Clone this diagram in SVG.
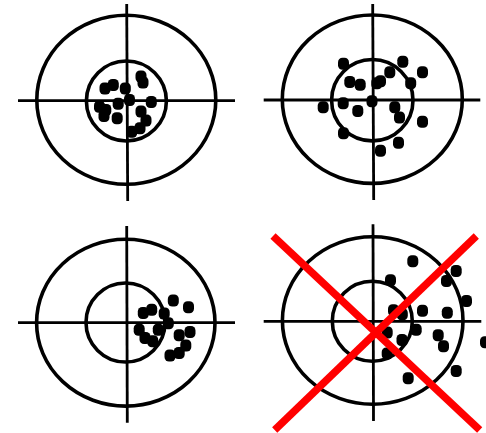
<svg xmlns="http://www.w3.org/2000/svg" xmlns:xlink="http://www.w3.org/1999/xlink" width="486" height="433" viewBox="0 0 486 433">
<style>
.ring{fill:none;stroke:#000;stroke-width:3.6}
.axis{stroke:#000;stroke-width:2.8}
.dot{fill:#000}
.cross{stroke:#ff0000;stroke-width:7.5;stroke-linecap:butt}
</style>
<defs>
<rect id="dot" class="dot" x="-5.5" y="-6" width="11" height="12" rx="4.5"/>
</defs>
<rect width="486" height="433" fill="#fff"/>
<g id="target-tl">
<ellipse class="ring" cx="126.3" cy="99.8" rx="89.5" ry="84.5"/>
<circle class="ring" cx="126.4" cy="101" r="40"/>
<line class="axis" x1="126.7" y1="4" x2="127.7" y2="201"/>
<line class="axis" x1="18" y1="100.7" x2="235" y2="100.7"/>
<use href="#dot" x="105" y="88.5"/>
<use href="#dot" x="113.3" y="85"/>
<use href="#dot" x="125.3" y="88.5"/>
<use href="#dot" x="141" y="76.5"/>
<use href="#dot" x="143" y="82.5"/>
<use href="#dot" x="129.5" y="100"/>
<use href="#dot" x="151.3" y="102"/>
<use href="#dot" x="118.2" y="103.7"/>
<use href="#dot" x="99.5" y="106.8"/>
<use href="#dot" x="105.8" y="110"/>
<use href="#dot" x="104" y="116"/>
<use href="#dot" x="117.2" y="118.2"/>
<use href="#dot" x="141" y="111.5"/>
<use href="#dot" x="146" y="120.5"/>
<use href="#dot" x="140" y="128.3"/>
<use href="#dot" x="131.7" y="131.8"/>
</g>
<g id="target-tr">
<ellipse class="ring" cx="372.3" cy="99.2" rx="90" ry="84.2"/>
<circle class="ring" cx="372.3" cy="100.2" r="40.7"/>
<line class="axis" x1="372.7" y1="4" x2="373.7" y2="200"/>
<line class="axis" x1="263.7" y1="100" x2="480.3" y2="100"/>
<use href="#dot" x="343.5" y="63.7"/>
<use href="#dot" x="402.8" y="61.8"/>
<use href="#dot" x="389.8" y="72.2"/>
<use href="#dot" x="422.5" y="72.2"/>
<use href="#dot" x="349.8" y="82"/>
<use href="#dot" x="360.2" y="84.7"/>
<use href="#dot" x="376.8" y="83.3"/>
<use href="#dot" x="380.5" y="81.3"/>
<use href="#dot" x="410.7" y="83.3"/>
<use href="#dot" x="372" y="101.2"/>
<use href="#dot" x="343.2" y="103.3"/>
<use href="#dot" x="323.2" y="107.3"/>
<use href="#dot" x="357.8" y="111"/>
<use href="#dot" x="394.8" y="107.3"/>
<use href="#dot" x="399.5" y="117.5"/>
<use href="#dot" x="422.5" y="121.7"/>
<use href="#dot" x="343.5" y="133.3"/>
<use href="#dot" x="398.5" y="142.7"/>
<use href="#dot" x="380.5" y="150.8"/>
</g>
<g id="target-bl">
<ellipse class="ring" cx="125.8" cy="322.7" rx="89.2" ry="83.4"/>
<circle class="ring" cx="125.5" cy="322.5" r="39.5"/>
<line class="axis" x1="126.7" y1="226" x2="127.3" y2="422.7"/>
<line class="axis" x1="18" y1="322.7" x2="235" y2="322.7"/>
<use href="#dot" x="173.3" y="300.5"/>
<use href="#dot" x="188.5" y="307.2"/>
<use href="#dot" x="143.3" y="313"/>
<use href="#dot" x="151.7" y="309.7"/>
<use href="#dot" x="164.2" y="313.5"/>
<use href="#dot" x="168.3" y="323.3"/>
<use href="#dot" x="158.3" y="329.7"/>
<use href="#dot" x="139.2" y="329.7"/>
<use href="#dot" x="145" y="338"/>
<use href="#dot" x="152.8" y="341.3"/>
<use href="#dot" x="179.2" y="335.2"/>
<use href="#dot" x="190" y="332"/>
<use href="#dot" x="185.8" y="345.5"/>
<use href="#dot" x="179.2" y="353"/>
<use href="#dot" x="170" y="355.5"/>
</g>
<g id="target-br">
<ellipse class="ring" cx="372.7" cy="320.5" rx="90.3" ry="83.8"/>
<circle class="ring" cx="372.3" cy="321.3" r="40"/>
<line class="axis" x1="373" y1="224.3" x2="373.5" y2="421"/>
<line class="axis" x1="263.7" y1="321.3" x2="481.3" y2="321.3"/>
<use href="#dot" x="412.8" y="261.3"/>
<use href="#dot" x="456.2" y="271"/>
<use href="#dot" x="446.5" y="281"/>
<use href="#dot" x="390.5" y="280.2"/>
<use href="#dot" x="466.5" y="301"/>
<use href="#dot" x="393.5" y="310.2"/>
<use href="#dot" x="402.3" y="314.3"/>
<use href="#dot" x="422.5" y="310.7"/>
<use href="#dot" x="447.3" y="312.7"/>
<use href="#dot" x="387.2" y="332.5"/>
<use href="#dot" x="416.2" y="329.7"/>
<use href="#dot" x="402" y="340"/>
<use href="#dot" x="438.2" y="335.2"/>
<use href="#dot" x="443.5" y="346.3"/>
<use href="#dot" x="485.5" y="342.2"/>
<use href="#dot" x="387.2" y="353.5"/>
<use href="#dot" x="456.2" y="371"/>
<use href="#dot" x="408.2" y="378.3"/>
<line class="cross" x1="273" y1="236" x2="479.7" y2="430"/>
<line class="cross" x1="476.3" y1="236" x2="274.7" y2="430"/>
</g>
</svg>
